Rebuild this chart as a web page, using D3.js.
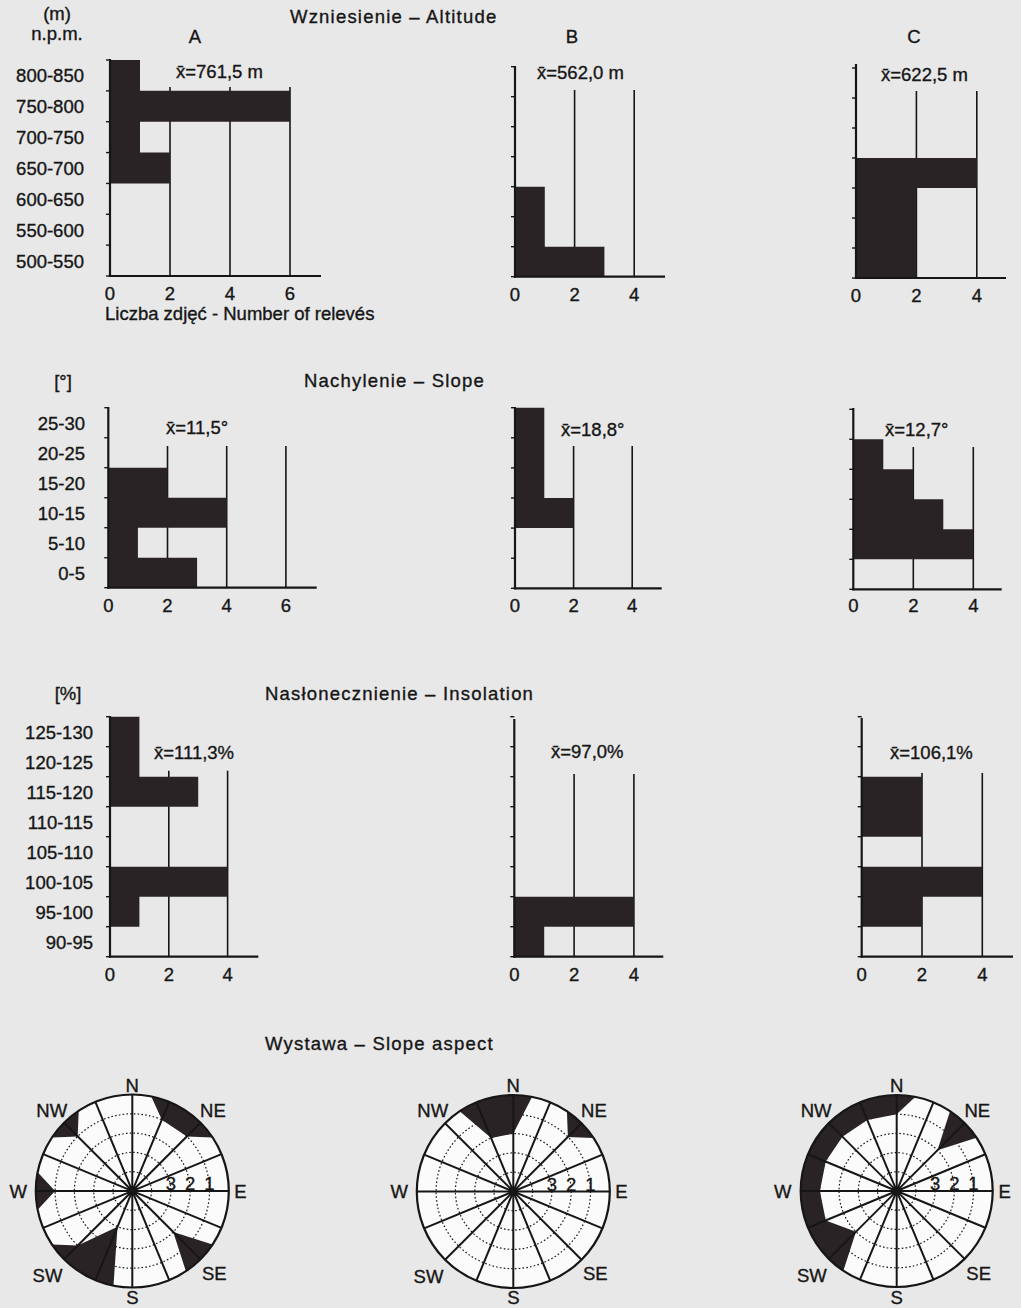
<!DOCTYPE html>
<html><head><meta charset="utf-8">
<script src="https://cdn.jsdelivr.net/npm/d3@7"></script>
<style>
body{margin:0;background:#e8e8e8;}
svg text{font-family:"Liberation Sans",Arial,sans-serif;fill:#161616;stroke:#161616;stroke-width:0.35px;}
svg text.title{letter-spacing:1.2px;}
</style></head><body>
<svg id="fig" width="1021" height="1308"></svg>
<script>
// ---------- data ----------
const altitudeClasses = ["800-850","750-800","700-750","650-700","600-650","550-600","500-550"];
const altitudeA = [1,6,1,2,0,0,0];
const altitudeB = [0,0,0,0,1,1,3];
const altitudeC = [0,0,0,4,2,2,2];
const altitudeMeans = ["x\u0304=761,5 m","x\u0304=562,0 m","x\u0304=622,5 m"];

const slopeClasses = ["25-30","20-25","15-20","10-15","5-10","0-5"];
const slopeA = [0,0,2,4,1,3];
const slopeB = [1,1,1,2,0,0];
const slopeC = [0,1,2,3,4,0];
const slopeMeans = ["x\u0304=11,5°","x\u0304=18,8°","x\u0304=12,7°"];

const insolationClasses = ["125-130","120-125","115-120","110-115","105-110","100-105","95-100","90-95"];
const insolationA = [1,1,3,0,0,4,1,0];
const insolationB = [0,0,0,0,0,0,4,1];
const insolationC = [0,0,2,2,0,4,2,0];
const insolationMeans = ["x\u0304=111,3%","x\u0304=97,0%","x\u0304=106,1%"];

const ticksWide = [0,2,4,6];
const ticksNarrow = [0,2,4];

// slope aspect: number of relevés per direction (16 directions, clockwise from N)
const aspectDirections = ["N","NNE","NE","ENE","E","ESE","SE","SSE","S","SSW","SW","WSW","W","WNW","NW","NNW"];
const aspectA = [0,1,1,0,0,0,2,0,0,3,1,0,1,0,1,0];
const aspectB = [2,0,1,0,0,0,0,0,0,0,0,0,0,0,0,2];
const aspectC = [1,0,2,0,0,0,0,0,0,0,2,1,1,1,1,1];
const ringLabels = [3,2,1];
const compassLabels = ["N","NE","E","SE","S","SW","W","NW"];

// ---------- drawing ----------
const FS = 18.5;
const INK = "#161616";
const BAR = "#2a2325";
const svg = d3.select("#fig");

function txt(x, y, s, anchor, cls) {
  return svg.append("text").attr("class", cls || null).attr("x", x).attr("y", y)
    .attr("text-anchor", anchor || "start").attr("font-size", FS).text(s);
}

function histogram(cfg) {
  const g = svg.append("g");
  const y = d3.scaleBand().domain(cfg.classes).range([cfg.rowTop, cfg.bottom]).padding(0);
  const x = d3.scaleLinear().domain([0, 1]).range([cfg.x0, cfg.x0 + cfg.unit]);
  const grid = cfg.ticks.filter(d => d > 0);

  g.selectAll("line.grid").data(grid).join("line").attr("class", "grid")
    .attr("x1", d => x(d)).attr("x2", d => x(d))
    .attr("y1", cfg.gridTop).attr("y2", cfg.bottom)
    .attr("stroke", INK).attr("stroke-width", 1.6);

  // all bars of one panel in a single path, so the steps join without seams
  const bars = d3.path();
  cfg.classes.forEach((c, i) => {
    const v = cfg.values[i];
    if (v > 0) bars.rect(x(0), y(c), x(v) - x(0), y.bandwidth());
  });
  g.append("path").attr("d", bars.toString()).attr("fill", BAR);

  // row boundary ticks on the left of the axis
  const bounds = cfg.classes.map(c => y(c)).concat([cfg.bottom]);
  g.selectAll("line.tk").data(bounds).join("line").attr("class", "tk")
    .attr("x1", x(0) - 4).attr("x2", x(0)).attr("y1", d => d).attr("y2", d => d)
    .attr("stroke", INK).attr("stroke-width", 1.4);

  g.append("line").attr("x1", x(0)).attr("x2", x(0)).attr("y1", cfg.axisTop).attr("y2", cfg.bottom + 1)
    .attr("stroke", INK).attr("stroke-width", 2.2);
  g.append("line").attr("x1", x(0) - 1).attr("x2", cfg.xEnd).attr("y1", cfg.bottom).attr("y2", cfg.bottom)
    .attr("stroke", INK).attr("stroke-width", 2.2);

  cfg.ticks.forEach(t => txt(x(t), cfg.tickY, String(t), "middle"));

  if (cfg.labelX) {
    cfg.classes.forEach(c => txt(cfg.labelX, y(c) + y.bandwidth() / 2 + 7, c, "end"));
  }
  txt(cfg.meanX, cfg.meanY, cfg.mean);
}

// Altitude
histogram({classes: altitudeClasses, values: altitudeA, ticks: ticksWide, x0: 110, unit: 30, xEnd: 321,
  rowTop: 60, bottom: 276, axisTop: 59, gridTop: 87, tickY: 300, labelX: 84, mean: altitudeMeans[0], meanX: 176, meanY: 78});
histogram({classes: altitudeClasses, values: altitudeB, ticks: ticksNarrow, x0: 515, unit: 29.8, xEnd: 665,
  rowTop: 66.7, bottom: 276.7, axisTop: 66, gridTop: 90, tickY: 301, mean: altitudeMeans[1], meanX: 537, meanY: 79});
histogram({classes: altitudeClasses, values: altitudeC, ticks: ticksNarrow, x0: 856, unit: 30.2, xEnd: 1006,
  rowTop: 68, bottom: 278, axisTop: 64, gridTop: 91, tickY: 302, mean: altitudeMeans[2], meanX: 881, meanY: 81});

// Slope
histogram({classes: slopeClasses, values: slopeA, ticks: ticksWide, x0: 108.3, unit: 29.6, xEnd: 316.7,
  rowTop: 407.7, bottom: 587.7, axisTop: 407, gridTop: 446, tickY: 612, labelX: 85, mean: slopeMeans[0], meanX: 166, meanY: 434});
histogram({classes: slopeClasses, values: slopeB, ticks: ticksNarrow, x0: 515, unit: 29.3, xEnd: 661.7,
  rowTop: 407.7, bottom: 588.3, axisTop: 407, gridTop: 446, tickY: 612, mean: slopeMeans[1], meanX: 561, meanY: 436});
histogram({classes: slopeClasses, values: slopeC, ticks: ticksNarrow, x0: 853.3, unit: 30, xEnd: 1001.7,
  rowTop: 409.3, bottom: 589.3, axisTop: 408, gridTop: 447, tickY: 612, mean: slopeMeans[2], meanX: 885, meanY: 436});

// Insolation
histogram({classes: insolationClasses, values: insolationA, ticks: ticksNarrow, x0: 110, unit: 29.4, xEnd: 258.3,
  rowTop: 716.7, bottom: 956.7, axisTop: 716, gridTop: 770.7, tickY: 981, labelX: 93, mean: insolationMeans[0], meanX: 154, meanY: 759});
histogram({classes: insolationClasses, values: insolationB, ticks: ticksNarrow, x0: 514.3, unit: 29.9, xEnd: 663.3,
  rowTop: 716.7, bottom: 956.7, axisTop: 719, gridTop: 774, tickY: 981, mean: insolationMeans[1], meanX: 551, meanY: 758});
histogram({classes: insolationClasses, values: insolationC, ticks: ticksNarrow, x0: 861.7, unit: 30.15, xEnd: 1013,
  rowTop: 716.7, bottom: 956.7, axisTop: 718, gridTop: 773, tickY: 981, mean: insolationMeans[2], meanX: 890, meanY: 759});

// Headings and units
txt(57, 20, "(m)", "middle");
txt(57, 40, "n.p.m.", "middle");
txt(290, 23, "Wzniesienie – Altitude", "start", "title");
txt(195, 43, "A", "middle");
txt(572, 43, "B", "middle");
txt(914, 43, "C", "middle");
txt(105, 320, "Liczba zdjęć - Number of relevés");
txt(63, 388, "[°]", "middle");
txt(304, 387, "Nachylenie – Slope", "start", "title");
txt(68, 700, "[%]", "middle");
txt(265, 700, "Nasłonecznienie – Insolation", "start", "title");
txt(265, 1050, "Wystawa – Slope aspect", "start", "title");

// Slope aspect roses
function rose(cfg) {
  const R = cfg.R;
  const depth = d3.scaleLinear().domain([0, 5]).range([R, 0]);
  const angle = d3.scaleLinear().domain([0, 16]).range([0, 2 * Math.PI]);
  const g = svg.append("g").attr("transform", `translate(${cfg.cx},${cfg.cy})`);

  g.append("circle").attr("r", R).attr("fill", "#fbfbfb");
  g.selectAll("circle.ring").data([1, 2, 3, 4]).join("circle").attr("class", "ring")
    .attr("r", d => depth(d)).attr("fill", "none")
    .attr("stroke", INK).attr("stroke-width", 1.2).attr("stroke-dasharray", "1.6 2.2");

  // outline of the unshaded part: a vertex on every direction at its depth;
  // next to an empty direction the outline returns to the rim half-way between
  const n = cfg.values.length;
  const pts = [];
  cfg.values.forEach((v, i) => {
    pts.push([angle(i), depth(v)]);
    const w = cfg.values[(i + 1) % n];
    if (Math.min(v, w) === 0) pts.push([angle(i + 0.5), depth(0)]);
  });
  const p = d3.path();
  p.arc(0, 0, R, 0, 2 * Math.PI);
  p.closePath();
  const inner = d3.lineRadial().curve(d3.curveLinearClosed)(pts);
  g.append("path").attr("d", p.toString() + inner).attr("fill", BAR).attr("fill-rule", "evenodd");

  g.selectAll("line.dir").data(d3.range(8)).join("line").attr("class", "dir")
    .attr("x1", d => -R * Math.sin(angle(d))).attr("y1", d => R * Math.cos(angle(d)))
    .attr("x2", d => R * Math.sin(angle(d))).attr("y2", d => -R * Math.cos(angle(d)))
    .attr("stroke", INK).attr("stroke-width", 2);
  g.append("circle").attr("r", R).attr("fill", "none").attr("stroke", INK).attr("stroke-width", 2.2);
  g.append("circle").attr("r", 5).attr("fill", INK);

  g.selectAll("text.ring").data(ringLabels).join("text").attr("class", "ring")
    .attr("x", d => depth(d)).attr("y", -1).attr("text-anchor", "middle")
    .attr("font-size", FS).text(d => d);

  // compass letters sit a little further out on the west side
  const labelRadius = [106, 114, 108, 116, 106, 120, 114, 114];
  g.selectAll("text.dir").data(compassLabels).join("text").attr("class", "dir")
    .attr("text-anchor", "middle").attr("font-size", FS)
    .attr("x", (d, i) => labelRadius[i] * Math.sin(angle(2 * i)))
    .attr("y", (d, i) => -labelRadius[i] * Math.cos(angle(2 * i)) + 6.5)
    .text(d => d);
}

rose({cx: 132.3, cy: 1191, R: 96.5, values: aspectA});
rose({cx: 513.3, cy: 1191.5, R: 96.5, values: aspectB});
rose({cx: 896.7, cy: 1191, R: 96, values: aspectC});
</script>
</body></html>
